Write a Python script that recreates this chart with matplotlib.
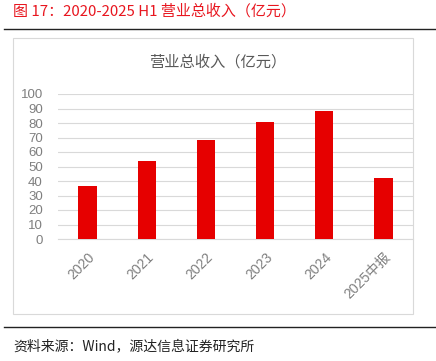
import matplotlib.pyplot as plt
from matplotlib.patches import Rectangle
from matplotlib.lines import Line2D

plt.rcParams['font.family'] = ['Noto Sans CJK SC', 'DejaVu Sans']

categories = ['2020', '2021', '2022', '2023', '2024', '2025中报']
revenue = [36.5, 54, 68.3, 80.8, 88.2, 42.2]
yticks = list(range(0, 101, 10))

W, H = 436, 361
fig = plt.figure(figsize=(W / 100, H / 100), dpi=100)

# plot area in pixel coords
x0, x1 = 58, 413
y0, y1 = 239, 94
ax = fig.add_axes([x0 / W, 1 - y0 / H, (x1 - x0) / W, (y0 - y1) / H])

ax.bar(range(len(categories)), revenue, width=0.31, color='#e60000', zorder=3)
ax.set_xlim(-0.5, len(categories) - 0.5)
ax.set_ylim(0, 100)
ax.set_yticks(yticks)
ax.set_xticks(range(len(categories)))
ax.set_xticklabels(categories, rotation=45, ha='right', rotation_mode='anchor',
                   family=['Liberation Sans', 'Noto Sans CJK SC'], fontsize=10)
ax.set_yticklabels([str(v) for v in yticks], family=['Liberation Sans'], fontsize=9.5)
ax.grid(axis='y', color='#d9d9d9', lw=0.8, zorder=0)
for s in ax.spines.values():
    s.set_visible(False)
ax.spines['bottom'].set_visible(True)
ax.spines['bottom'].set_color('#d9d9d9')
ax.tick_params(length=0, colors='#7f7f7f')
ax.tick_params(axis='x', pad=8)
ax.tick_params(axis='y', pad=11)

# chart frame
fig.add_artist(Rectangle((13 / W, 1 - 314 / H), (413 - 13) / W, (314 - 38) / H,
                         transform=fig.transFigure, fill=False, ec='#d9d9d9', lw=0.8))
fig.text(218 / W, 1 - 62 / H, '营业总收入（亿元）', ha='center', va='center',
         fontsize=11, color='#595959')

# header / footer
fig.text(13 / W, 1 - 11 / H, '图 17：2020-2025 H1 营业总收入（亿元）', ha='left', va='center',
         fontsize=10.8, color='#e8161f')
fig.add_artist(Line2D([4 / W, 1], [1 - 29 / H] * 2, transform=fig.transFigure, color='#222222', lw=1.0))
fig.add_artist(Line2D([4 / W, 1], [1 - 327 / H] * 2, transform=fig.transFigure, color='#222222', lw=1.0))
fig.text(13 / W, 1 - 346 / H, '资料来源：Wind，源达信息证券研究所', ha='left', va='center',
         fontsize=10, color='#222222')

fig.savefig('out.png', dpi=100)
